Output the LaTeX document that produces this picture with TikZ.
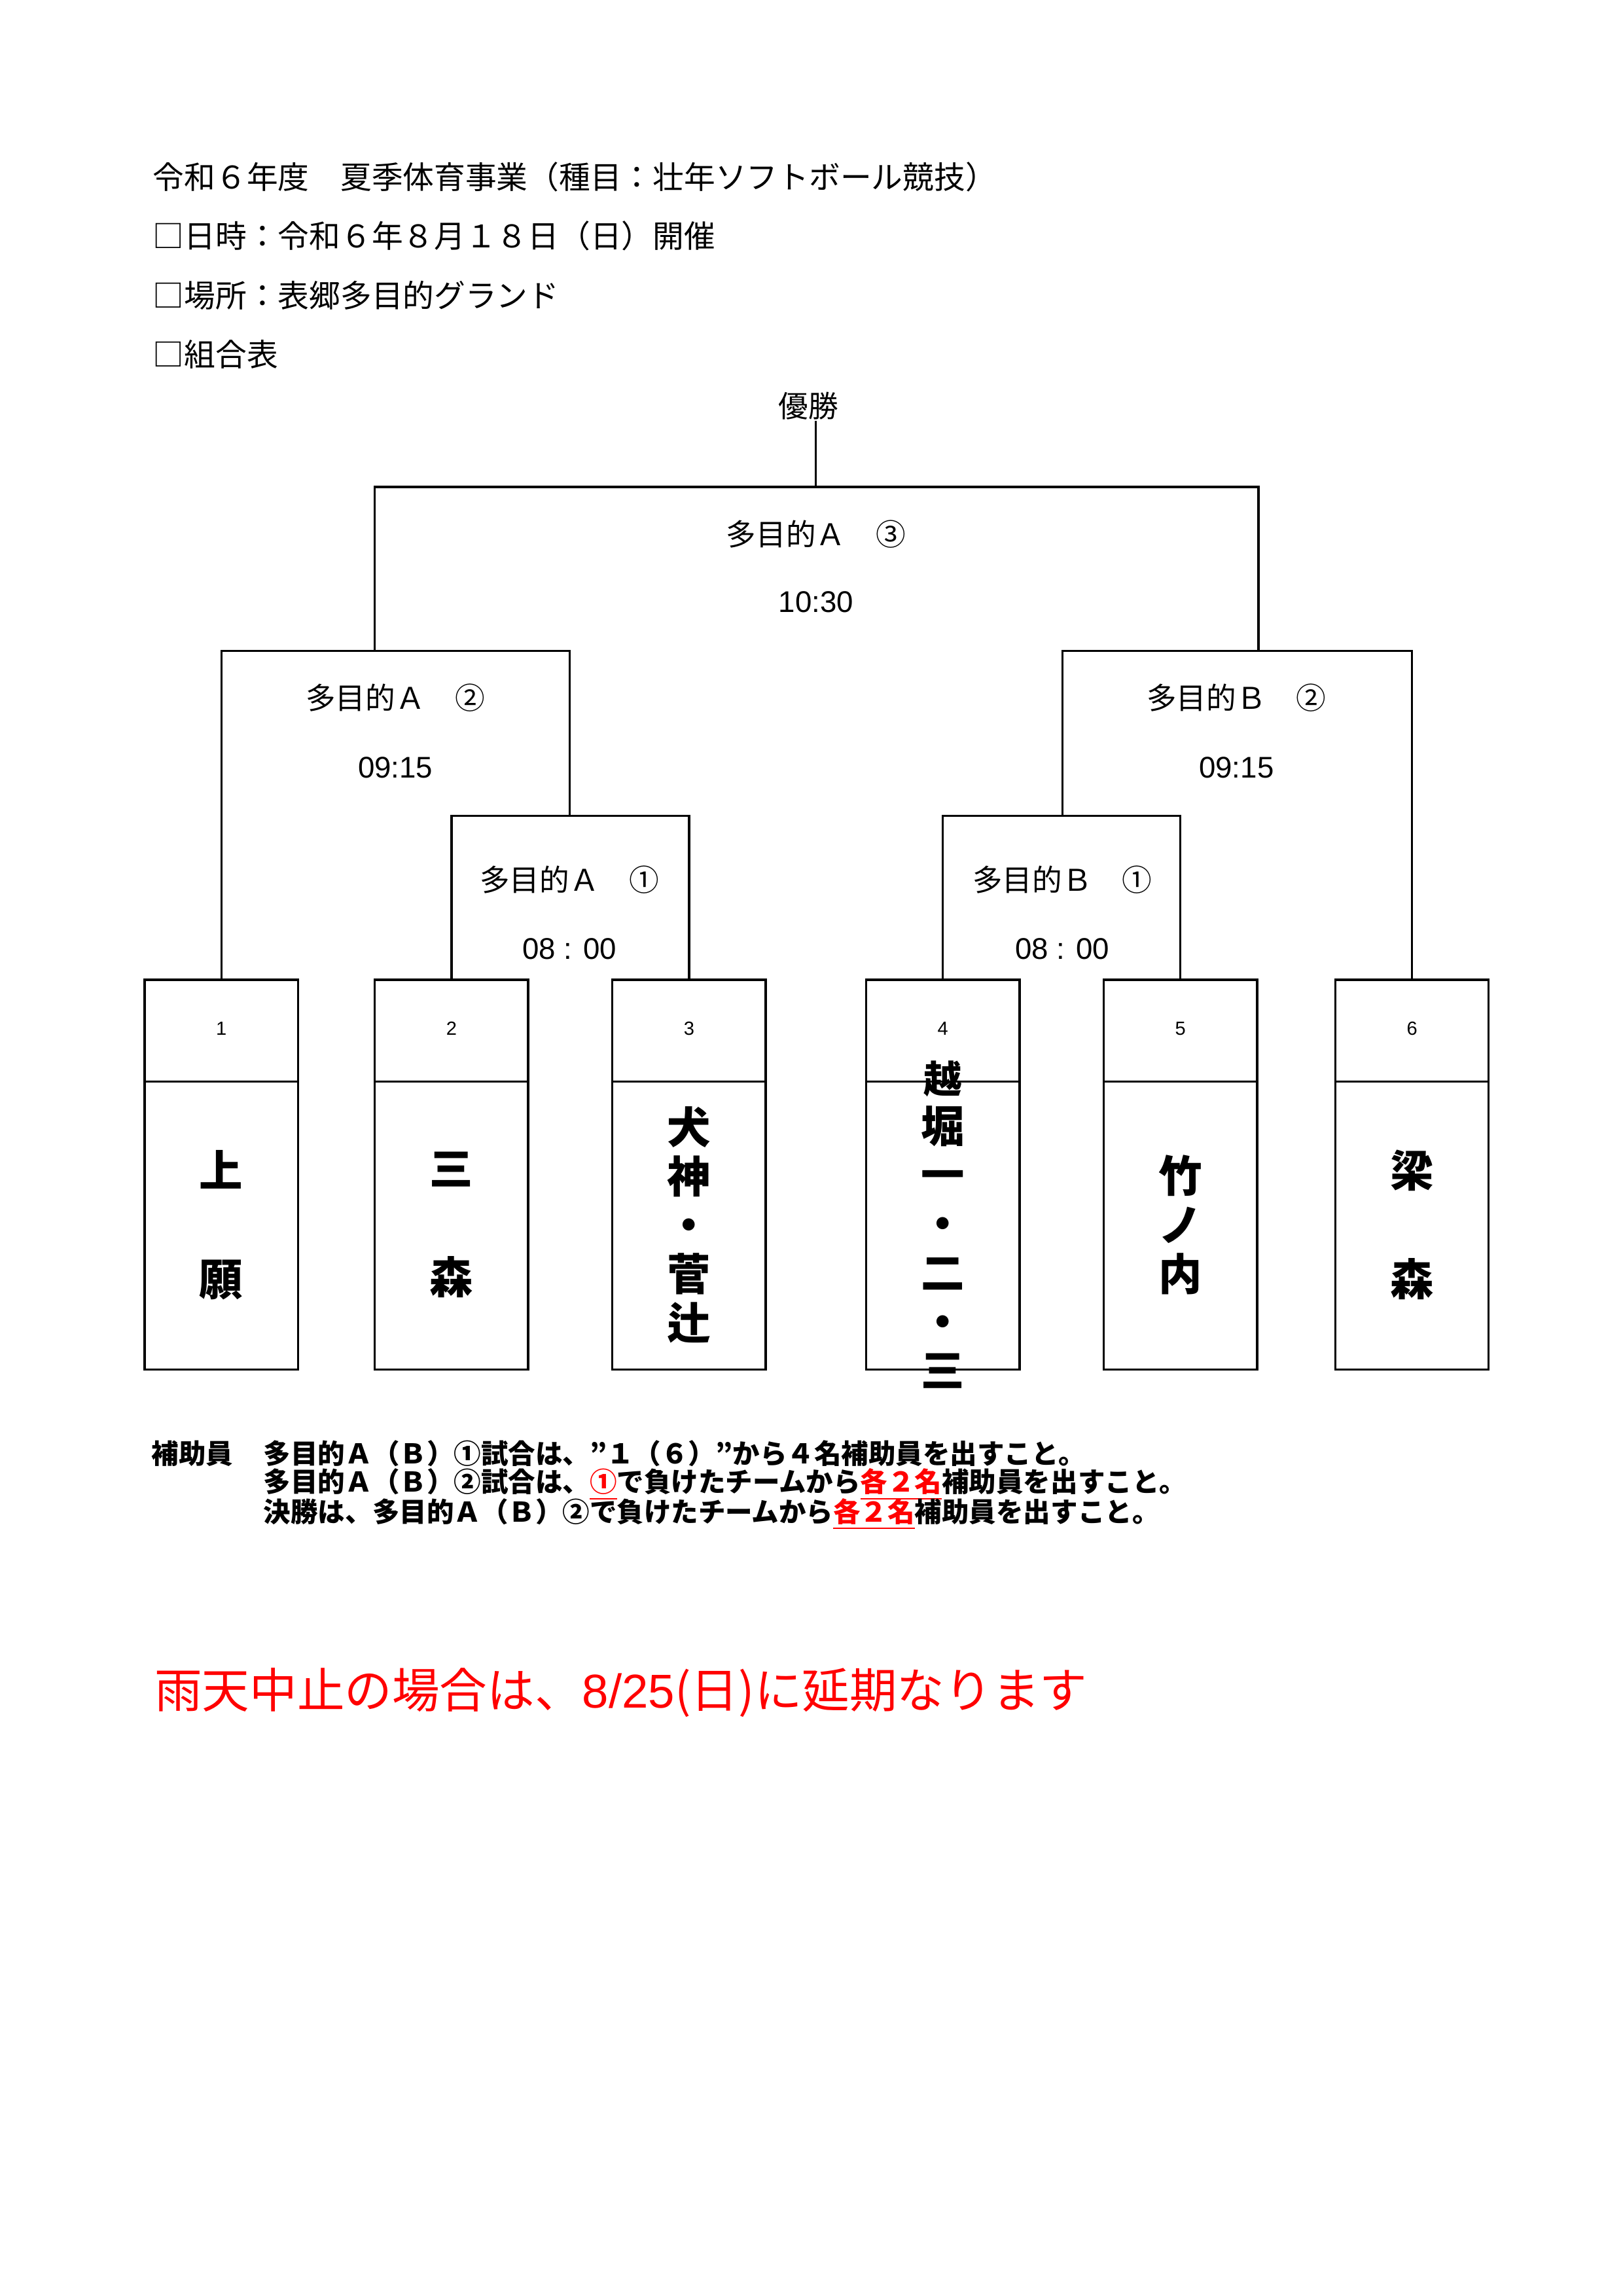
\documentclass[tikz,border=0pt]{standalone}
\usepackage{fontspec}
\setmainfont{Noto Sans CJK JP}
\newfontfamily\numfont{Liberation Sans}
\usetikzlibrary{positioning}
\tikzset{
  head/.style={anchor=west,font=\fontsize{11.5}{13}\selectfont,inner sep=0pt},
  match/.style={font=\fontsize{11}{13}\selectfont,inner sep=0pt},
  team/.style={draw,thick,minimum width=1.985cm,minimum height=5.04cm,inner sep=0pt},
  tnum/.style={font=\fontsize{7}{8}\selectfont,inner sep=0pt},
  tname/.style={font=\bfseries\fontsize{16}{18}\selectfont,align=center,inner sep=0pt},
  note/.style={anchor=west,font=\bfseries\fontsize{10}{11}\selectfont,inner sep=0pt},
}
\begin{document}
\begin{tikzpicture}[x=0.01909cm,y=-0.01909cm,line width=0.8pt]
\useasboundingbox (0,0) rectangle (1100,1556);

% 見出し
\node[head] (h1) at (103,120) {令和６年度　夏季体育事業（種目：壮年ソフトボール競技）};
\node[head] (h2) at (103,160) {□日時：令和６年８月１８日（日）開催};
\node[head] (h3) at (103,200) {□場所：表郷多目的グランド};
\node[head] (h4) at (103,240) {□組合表};
\node[match] (win) at (548,275) {優勝};

% チーム
\foreach \i/\x/\n in {1/150/{上\\[22pt]願},2/306/{三\\[22pt]森},3/467/{犬\\神\\・\\菅\\辻},
  4/639/{\fontsize{14}{14.6}\selectfont 越\\堀\\一\\・\\二\\・\\三},5/800/{竹\\ノ\\内},6/957/{梁\\[22pt]森}}{
  \node[team] (t\i) at (\x,796) {};
  \draw[thick] (\x-52,733) -- (\x+52,733);
  \node[tnum] (n\i) at (\x,697) {\numfont\i};
  \node[tname] (w\i) at (\x,830) {\n};
}

% 組合せ線
\coordinate (m1) at (386,553);
\coordinate (m2) at (720,553);
\coordinate (s1) at (268,441);
\coordinate (s2) at (838,441);
\coordinate (k1) at (254,441);
\coordinate (k2) at (853,441);
\coordinate (f) at (553,330);
\draw (t2.north) |- (m1) -| (t3.north);
\draw (t4.north) |- (m2) -| (t5.north);
\draw (t1.north) |- (s1) -| (m1);
\draw (m2) |- (s2) -| (t6.north);
\draw (k1) |- (f) -| (k2);
\draw (f) -- (f|-win.south);

% 試合
\node[match] (a1) at (386,596) {多目的Ａ　①};
\node[match] (a1t) at (386,643) {\numfont 08 : 00};
\node[match] (b1) at (720,596) {多目的Ｂ　①};
\node[match] (b1t) at (720,643) {\numfont 08 : 00};
\node[match] (a2) at (268,473) {多目的Ａ　②};
\node[match] (a2t) at (268,520) {\numfont 09:15};
\node[match] (b2) at (838,473) {多目的Ｂ　②};
\node[match] (b2t) at (838,520) {\numfont 09:15};
\node[match] (a3) at (553,362) {多目的Ａ　③};
\node[match] (a3t) at (553,408) {\numfont 10:30};

% 補助員
\node[note] (x0) at (102,985) {補助員};
\node[note] (x1) at (178,985) {多目的Ａ（Ｂ）①試合は、”１（６）”から４名補助員を出すこと。};
\node[note] (x2) at (178,1006) {多目的Ａ（Ｂ）②試合は、\textcolor{red}{\underline{①}}で負けたチームから\textcolor{red}{\underline{各２名}}補助員を出すこと。};
\node[note] (x3) at (178,1026) {決勝は、多目的Ａ（Ｂ）②で負けたチームから\textcolor{red}{\underline{各２名}}補助員を出すこと。};

\node[anchor=west,inner sep=0pt,text=red,font=\fontsize{17.5}{20}\selectfont] (rain) at (104,1147) {雨天中止の場合は、{\numfont 8/25}(日)に延期なります};
\end{tikzpicture}
\end{document}
